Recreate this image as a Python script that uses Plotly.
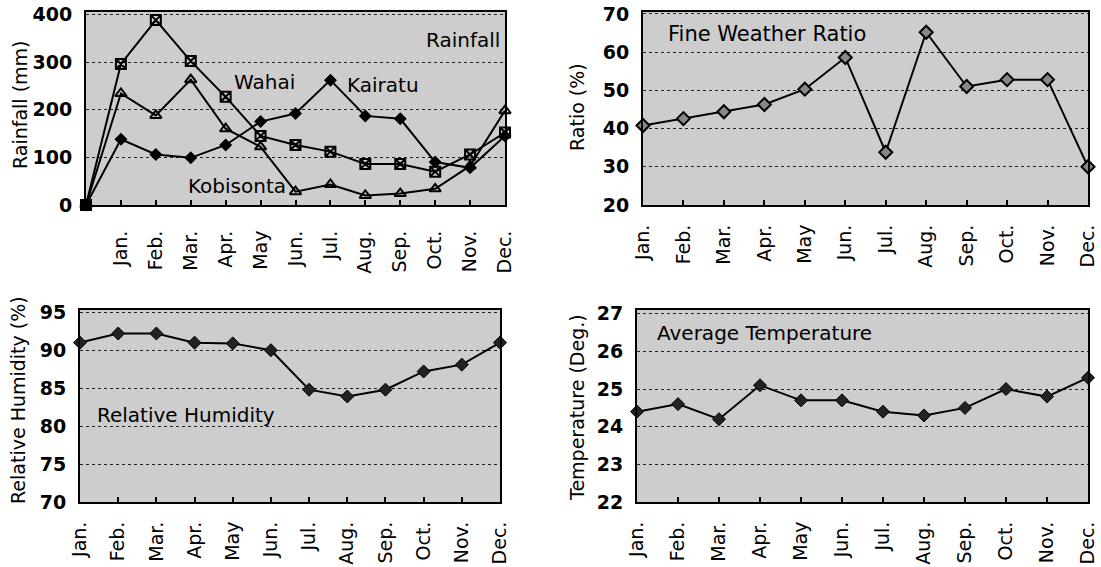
import plotly.graph_objects as go

# ---------------- data ----------------
months = ["Jan.", "Feb.", "Mar.", "Apr.", "May", "Jun.", "Jul.", "Aug.", "Sep.", "Oct.", "Nov.", "Dec."]
rain_cats = [" "] + months

rain_wahai = [0, 296, 388, 302, 227, 145, 126, 112, 86, 86, 70, 106, 152]
rain_kobisonta = [0, 234, 188, 263, 160, 122, 28, 43, 20, 24, 34, 82, 198]
rain_kairatu = [0, 138, 106, 99, 126, 175, 192, 262, 187, 181, 90, 78, 145]

fine_ratio = [40.8, 42.6, 44.4, 46.3, 50.3, 58.6, 33.8, 65.2, 51.0, 52.8, 52.8, 30.0]
humidity = [91.0, 92.2, 92.2, 91.0, 90.9, 90.0, 84.8, 83.9, 84.8, 87.2, 88.1, 91.0]
temperature = [24.4, 24.6, 24.2, 25.1, 24.7, 24.7, 24.4, 24.3, 24.5, 25.0, 24.8, 25.3]

rain_ticks = [0, 100, 200, 300, 400]
ratio_ticks = [20, 30, 40, 50, 60, 70]
hum_ticks = [70, 75, 80, 85, 90, 95]
temp_ticks = [22, 23, 24, 25, 26, 27]

# ---------------- layout helpers ----------------
W, H = 1101, 567
FONT = "DejaVu Sans"
BG = "#cdcdcd"


def xd(a, b):
    return [a / W, b / W]


def yd(top, bottom):
    return [1 - bottom / H, 1 - top / H]


fig = go.Figure()

line_style = dict(color="black", width=2)

fig.add_trace(go.Scatter(x=rain_cats, y=rain_wahai, mode="lines+markers", line=line_style,
                         marker=dict(symbol="square-x-open", size=10, color="black", line=dict(width=2)),
                         xaxis="x", yaxis="y", cliponaxis=False, showlegend=False))
fig.add_trace(go.Scatter(x=rain_cats, y=rain_kobisonta, mode="lines+markers", line=line_style,
                         marker=dict(symbol="triangle-up-open", size=10, color="black", line=dict(width=2)),
                         xaxis="x", yaxis="y", cliponaxis=False, showlegend=False))
fig.add_trace(go.Scatter(x=rain_cats, y=rain_kairatu, mode="lines+markers", line=line_style,
                         marker=dict(symbol="diamond", size=10, color="black"),
                         xaxis="x", yaxis="y", cliponaxis=False, showlegend=False))

fig.add_trace(go.Scatter(x=months, y=fine_ratio, mode="lines+markers", line=line_style,
                         marker=dict(symbol="diamond", size=10, color="#888888", line=dict(color="black", width=2)),
                         xaxis="x2", yaxis="y2", cliponaxis=False, showlegend=False))
fig.add_trace(go.Scatter(x=months, y=humidity, mode="lines+markers", line=line_style,
                         marker=dict(symbol="diamond", size=10, color="#222222", line=dict(color="black", width=1)),
                         xaxis="x3", yaxis="y3", cliponaxis=False, showlegend=False))
fig.add_trace(go.Scatter(x=months, y=temperature, mode="lines+markers", line=line_style,
                         marker=dict(symbol="diamond", size=10, color="#222222", line=dict(color="black", width=1)),
                         xaxis="x4", yaxis="y4", cliponaxis=False, showlegend=False))

tickfont_x = dict(family=FONT, size=19, color="black")
tickfont_y = dict(family=FONT, size=19, color="black", weight="bold")


def xaxis(domain, anchor, cats, standoff):
    return dict(domain=domain, anchor=anchor, type="category", categoryarray=cats,
                range=[0, len(cats) - 1], tickangle=-90, tickfont=tickfont_x,
                showline=True, linecolor="black", linewidth=2, mirror=True,
                ticks="inside", ticklen=5, tickcolor="black", tickwidth=1.5,
                ticklabelstandoff=standoff,
                showgrid=False, zeroline=False, fixedrange=True, automargin=False)


def yaxis(domain, anchor, rng, ticks):
    return dict(domain=domain, anchor=anchor, range=rng, tickvals=ticks, tickfont=tickfont_y,
                showline=True, linecolor="black", linewidth=2, mirror=True,
                ticks="", showgrid=True, gridcolor="#222222", griddash="dot", gridwidth=1,
                zeroline=False, ticklabelstandoff=8, fixedrange=True, automargin=False)


fig.update_layout(
    template="none",
    width=W, height=H,
    margin=dict(l=0, r=0, t=0, b=0),
    paper_bgcolor="white",
    plot_bgcolor=BG,
    font=dict(family=FONT, color="black"),
    xaxis=xaxis(xd(86, 505), "y", rain_cats, 16),
    yaxis=yaxis(yd(12, 205), "x", [0, 405], rain_ticks),
    xaxis2=xaxis(xd(643, 1088), "y2", months, 10),
    yaxis2=yaxis(yd(12, 205), "x2", [20, 70.5], ratio_ticks),
    xaxis3=xaxis(xd(80, 500), "y3", months, 10),
    yaxis3=yaxis(yd(310, 502), "x3", [70, 95.3], hum_ticks),
    xaxis4=xaxis(xd(637, 1088), "y4", months, 10),
    yaxis4=yaxis(yd(310, 502), "x4", [22, 27.1], temp_ticks),
)


def ann(text, x, y, xanchor="left", size=19, angle=0):
    fig.add_annotation(text=text, x=x / W, y=1 - y / H, xref="paper", yref="paper",
                       xanchor=xanchor, yanchor="middle", showarrow=False, textangle=angle,
                       font=dict(family=FONT, size=size, color="black"))


# in-plot labels
ann("Rainfall", 502, 40, xanchor="right", size=20)
ann("Wahai", 232, 82, size=20)
ann("Kairatu", 345, 85, size=20)
ann("Kobisonta", 186, 186, size=20)
ann("Fine Weather Ratio", 666, 34, size=21)
ann("Relative Humidity", 95, 415, size=20)
ann("Average Temperature", 655, 333, size=20)

# axis titles
for text, x, y in [("Rainfall (mm)", 20, 105), ("Ratio (%)", 577, 107),
                   ("Relative Humidity (%)", 18, 400), ("Temperature (Deg.)", 577, 408)]:
    fig.add_annotation(text=text, x=x / W, y=1 - y / H, xref="paper", yref="paper",
                       showarrow=False, textangle=-90, xanchor="center", yanchor="middle",
                       font=dict(family=FONT, size=19, color="black"))

fig.write_html("out.html", config={"displayModeBar": False},
               post_script="document.body.style.margin='0px';")
